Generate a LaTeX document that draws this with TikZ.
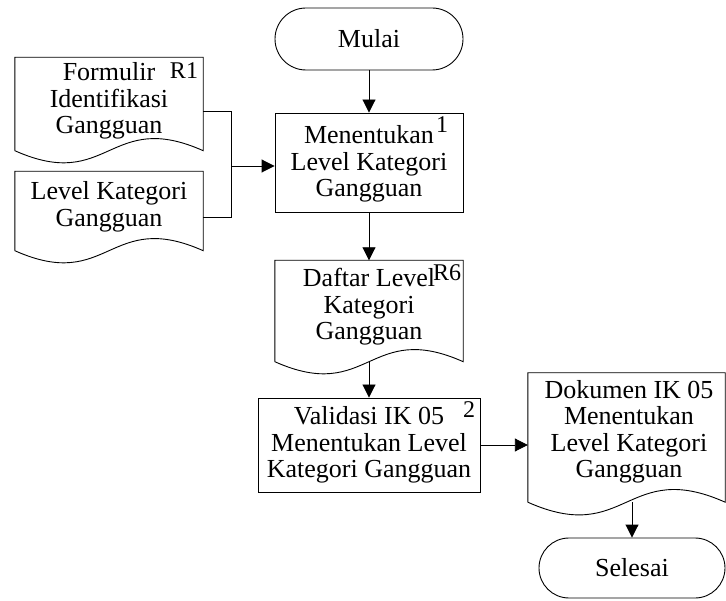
\documentclass[tikz,border=0pt]{standalone}
\usepackage{fontspec}
\setmainfont{Liberation Serif}
\usetikzlibrary{arrows.meta,shapes.misc,calc}

\tikzset{
  flow/.style={line width=0.9pt},
  arr/.style={flow,-{Triangle[length=13pt,width=13pt]}},
  procbox/.style={draw,flow,rectangle,inner sep=0pt},
  term/.style={draw,flow,rounded rectangle,inner sep=0pt},
  docarea/.style={rectangle,inner sep=0pt},
  txt/.style={align=center,inner sep=0pt,font=\fontsize{26}{26.5}\selectfont},
  tag/.style={inner sep=0pt,font=\fontsize{24}{24}\selectfont},
}

% document outline with a wavy bottom edge
\newcommand\docoutline[2]{%
  \draw[flow] (#1.south west) -- (#1.north west) -- (#1.north east) -- (#1.south east)
    .. controls ($(#1.south)+(0,-#2)$) and ($(#1.south)+(0,#2)$) .. (#1.south west);}

\begin{document}
\begin{tikzpicture}[x=1pt,y=-1pt]
\useasboundingbox (0,0) rectangle (726,601);

% terminals and processes
\node[term,minimum width=188pt,minimum height=62pt] (start) at (369,39) {};
\node[txt] at (start) {Mulai};
\node[procbox,minimum width=188pt,minimum height=99pt] (box1) at (369,162.5) {};
\node[txt] at (369,164) {Menentukan\\Level Kategori\\Gangguan};
\node[tag] (t1) at (442,125) {1};
\node[procbox,minimum width=222pt,minimum height=94pt] (box2) at (369,445) {};
\node[txt] at (369,445) {Validasi IK 05\\Menentukan Level\\Kategori Gangguan};
\node[tag] (t2) at (469,410) {2};
\node[term,minimum width=186pt,minimum height=60pt] (stop) at (632,568) {};
\node[txt] at (stop) {Selesai};

% documents
\node[docarea,minimum width=188pt,minimum height=93pt] (d1) at (109,104) {};
\docoutline{d1}{42}
\node[txt] at (109,101) {Formulir\\Identifikasi\\Gangguan};
\node[tag] (r1) at (184,71) {R1};

\node[docarea,minimum width=188pt,minimum height=79pt] (d2) at (109,211) {};
\docoutline{d2}{42}
\node[txt] at (109,207) {Level Kategori\\Gangguan};

\node[docarea,minimum width=188pt,minimum height=101pt] (d3) at (369,311) {};
\docoutline{d3}{42}
\node[txt] at (369,307) {Daftar Level\\Kategori\\Gangguan};
\node[tag] (r6) at (447,273) {R6};

\node[docarea,minimum width=197pt,minimum height=129pt] (d4) at (626.5,437.5) {};
\docoutline{d4}{44}
\node[txt] at (629,432) {Dokumen IK 05\\Menentukan\\Level Kategori\\Gangguan};

% connectors
\coordinate (join) at (231,166);
\draw[flow] ([yshift=-7pt]d1.east) -| (join);
\draw[flow] ([yshift=-6pt]d2.east) -| (join);
\draw[arr] (join) -- (join -| box1.west);
\draw[arr] (start.south) -- (box1.north);
\draw[arr] (box1.south) -- (d3.north);
\draw[arr] (d3.south) -- (box2.north);
\draw[arr] (box2.east) -- (box2.east -| d4.west);
\draw[arr] (stop.north |- d4.south) -- (stop.north);
\end{tikzpicture}
\end{document}
